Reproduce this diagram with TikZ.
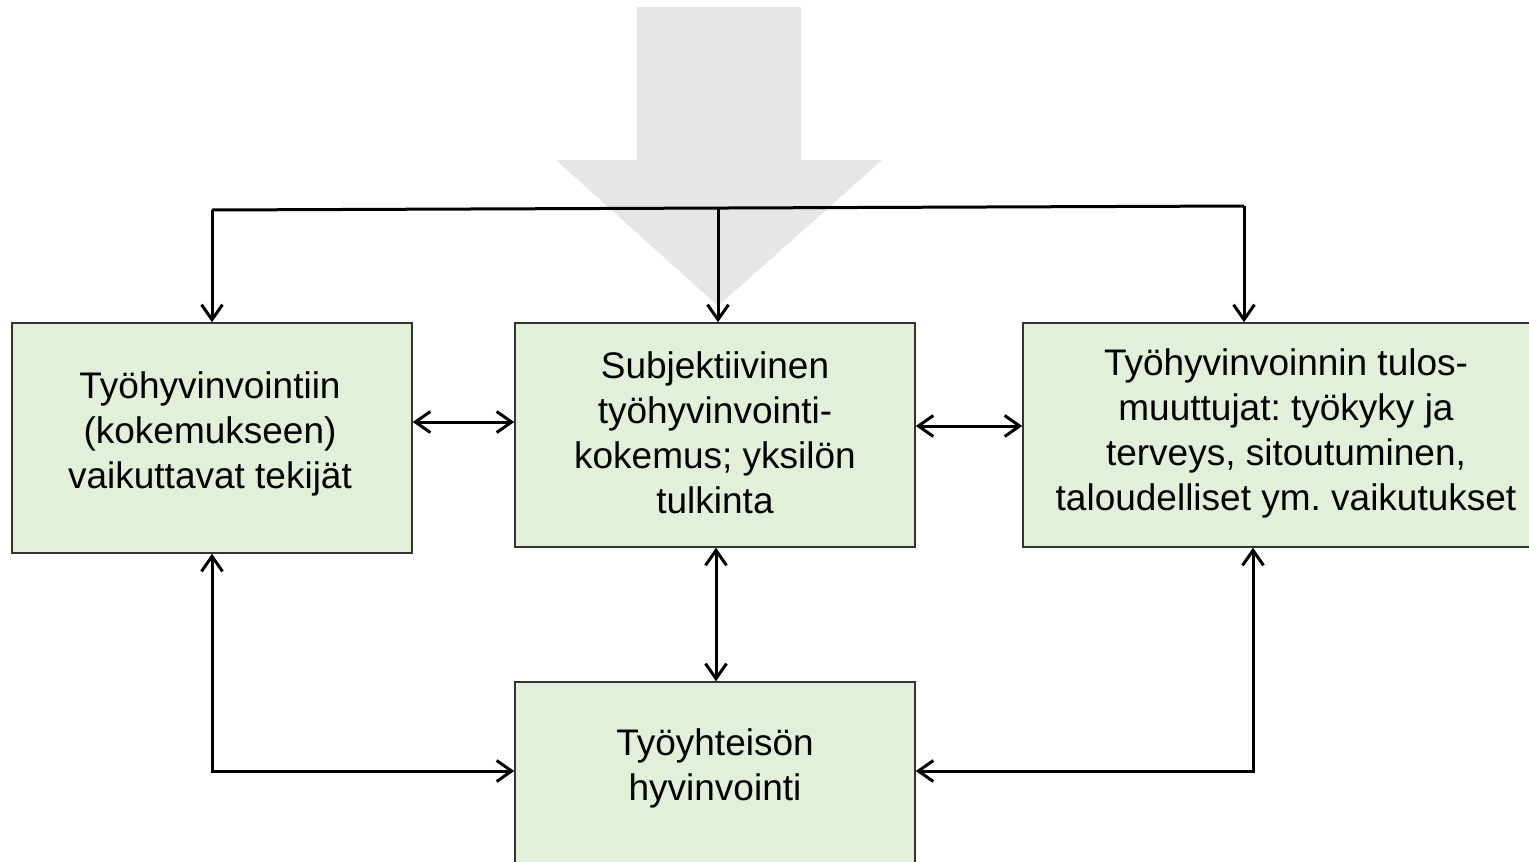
\documentclass[tikz,border=0pt]{standalone}
\usepackage{fontspec}
\setmainfont{Liberation Sans}
\usetikzlibrary{arrows.meta}
\definecolor{boxfill}{HTML}{E2EFD9}
\definecolor{boxline}{HTML}{333333}
\definecolor{bigarrow}{HTML}{E6E6E6}
\tikzset{
  box/.style={draw=boxline, line width=1.5pt, fill=boxfill, rectangle, inner sep=0pt},
  label text/.style={align=center, font=\fontsize{37}{45}\selectfont\frenchspacing, inner sep=0pt},
  conn/.style={line width=3pt, >={Straight Barb[length=15pt,width=21pt]}},
}
\begin{document}
\begin{tikzpicture}[x=1pt, y=-1pt]
\useasboundingbox (0,0) rectangle (1529,862);
\clip (0,0) rectangle (1529,862);

% broad downward arrow in the background
\fill[bigarrow] (637,7) -- (801,7) -- (801,160) -- (882,160) -- (718,306)
  -- (556,160) -- (637,160) -- cycle;

% boxes
\node[box, minimum width=400pt, minimum height=230pt] (L) at (212,438) {};
\node[box, minimum width=400pt, minimum height=224pt] (M) at (715,435) {};
\node[box, minimum width=530pt, minimum height=224pt] (R) at (1288,435) {};
\node[box, minimum width=400pt, minimum height=200pt] (B) at (715,782) {};

% box texts
\node[label text] (Lt) at (210,434) {Työhyvinvointiin\\(kokemukseen)\\vaikuttavat tekijät};
\node[label text] (Mt) at (715,433) {Subjektiivinen\\työhyvinvointi-\\kokemus; yksilön\\tulkinta};
\node[label text] (Rt) at (1286,433) {Työhyvinvoinnin tulos-\\muuttujat: työkyky ja\\terveys, sitoutuminen,\\taloudelliset ym. vaikutukset};
\node[label text] (Bt) at (715,768) {Työyhteisön\\hyvinvointi};

% helper coordinates for connector routing
\coordinate (j1) at (212,210);
\coordinate (j2) at (1244,206);
\coordinate (jm) at (718,208);
\coordinate (h1) at (464,422);
\coordinate (h2) at (970,426);
\coordinate (v1) at (716,600);
\coordinate (h3) at (400,771);
\coordinate (v4) at (1253,600);

% distribution line across the top
\draw[conn] (j1) -- (j2);
\draw[conn,->] (j1) -- (L.north);
\draw[conn,->] (jm) -- (jm |- M.north);
\draw[conn,->] (j2) -- (j2 |- R.north);

% links between the boxes
\draw[conn,<->] (h1 -| L.east) -- (h1 -| M.west);
\draw[conn,<->] (h2 -| M.east) -- (h2 -| R.west);
\draw[conn,<->] (v1 |- M.south) -- (v1 |- B.north);
\draw[conn,<->] (L.south) |- (h3 -| B.west);
\draw[conn,<->] (v4 |- R.south) |- (h3 -| B.east);
\end{tikzpicture}
\end{document}
